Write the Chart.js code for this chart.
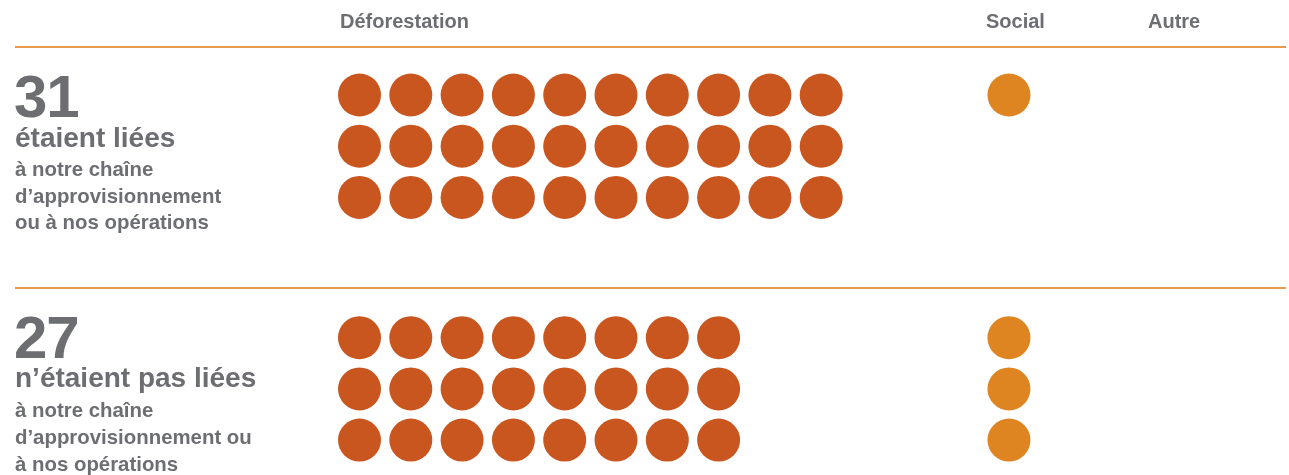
<!DOCTYPE html>
<html lang="fr">
<head>
  <meta charset="UTF-8" />
  <title>Alertes déforestation</title>
  <script src="https://cdn.jsdelivr.net/npm/chart.js"></script>
  <style>
    body {
      margin: 0;
      background: #ffffff;
      font-family: "Liberation Sans", Arial, sans-serif;
      font-weight: bold;
      color: #6d6e71;
    }
    #wrap {
      position: relative;
      width: 1289px;
      height: 475px;
      overflow: hidden;
    }
    #dots {
      position: absolute;
      left: 0;
      top: 0;
    }
    .t {
      position: absolute;
      white-space: nowrap;
    }
    .head { font-size: 20px; line-height: 20px; top: 11px; }
    .big { font-size: 60px; line-height: 60px; left: 14px; letter-spacing: -1px; }
    .mid { font-size: 28px; line-height: 28px; left: 15px; }
    .small { font-size: 20.4px; left: 15px; }
    .rule {
      position: absolute;
      left: 15px;
      width: 1271px;
      height: 2px;
      background: #e99a4e;
    }
  </style>
</head>
<body>
<div id="wrap">
  <canvas id="dots" width="1289" height="475"></canvas>

  <div class="t head" style="left:340px">Déforestation</div>
  <div class="t head" style="left:986px">Social</div>
  <div class="t head" style="left:1148px">Autre</div>

  <div class="rule" style="top:46px"></div>
  <div class="rule" style="top:287px"></div>

  <div class="t big" style="top:67px" id="total0"></div>
  <div class="t mid" style="top:124px">étaient liées</div>
  <div class="t small" style="top:156px; line-height:26.5px">à notre chaîne<br>d’approvisionnement<br>ou à nos opérations</div>

  <div class="t big" style="top:308px" id="total1"></div>
  <div class="t mid" style="top:364px">n’étaient pas liées</div>
  <div class="t small" style="top:396.5px; line-height:27px">à notre chaîne<br>d’approvisionnement ou<br>à nos opérations</div>
</div>

<script>
  // catégories et nombre d'alertes par groupe
  const categories = ['Déforestation', 'Social', 'Autre'];
  const linked = [30, 1, 0];      // liées à notre chaîne
  const notLinked = [24, 3, 0];   // pas liées
  const groups = [linked, notLinked];

  const colors = ['#c9551f', '#de8421', '#9a9a9a'];

  // mise en page de la grille (unités de colonne / rangée)
  const rowsPerCol = 3;
  const catStart = [0, 12.66, 15.88];
  const groupOffset = [0, 4.74];

  document.getElementById('total0').textContent = linked.reduce((a, b) => a + b, 0);
  document.getElementById('total1').textContent = notLinked.reduce((a, b) => a + b, 0);

  const datasets = categories.map((cat, c) => {
    const pts = [];
    groups.forEach((g, gi) => {
      for (let k = 0; k < g[c]; k++) {
        pts.push({
          x: catStart[c] + Math.floor(k / rowsPerCol),
          y: groupOffset[gi] + (k % rowsPerCol)
        });
      }
    });
    return {
      label: cat,
      data: pts,
      backgroundColor: colors[c],
      borderWidth: 0,
      pointRadius: 21.5,
      pointHoverRadius: 21.5
    };
  });

  const colW = 51.3;
  const rowH = 51.2;
  const xMin = -359.5 / colW;
  const yMin = -95 / rowH;

  new Chart(document.getElementById('dots'), {
    type: 'scatter',
    data: { datasets: datasets },
    options: {
      responsive: false,
      animation: false,
      devicePixelRatio: 1,
      layout: { padding: 0, autoPadding: false },
      plugins: {
        legend: { display: false },
        tooltip: { enabled: false }
      },
      scales: {
        x: { display: false, min: xMin, max: xMin + 1289 / colW },
        y: { display: false, reverse: true, min: yMin, max: yMin + 475 / rowH }
      }
    }
  });
</script>
</body>
</html>
